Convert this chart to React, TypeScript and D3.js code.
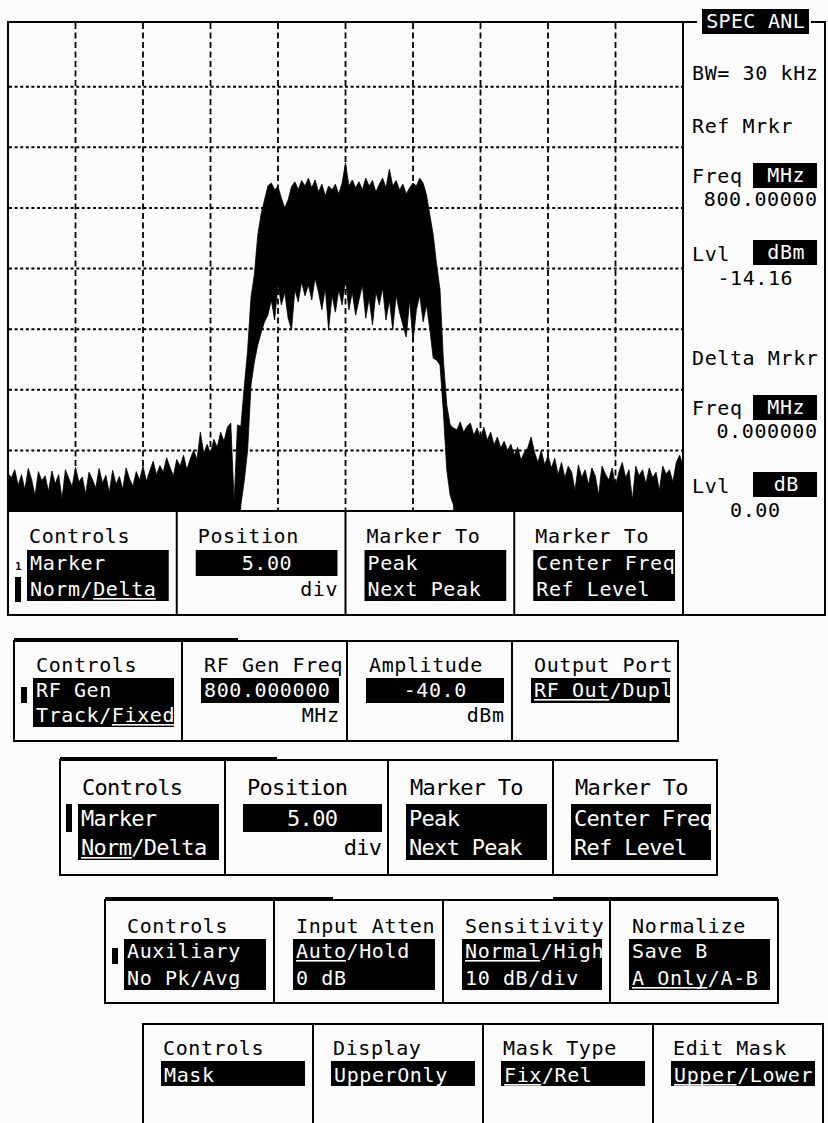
import React from "react";
import * as d3 from "d3";

// ---------- Spectrum trace data (dBm), sweep 797.5 .. 802.5 MHz, 0.025 MHz/point ----------
const START_MHZ = 797.5;
const STOP_MHZ = 802.5;
const STEP_MHZ = 0.025;
const REF_LEVEL = 10;
const DB_PER_DIV = 10;

// upper envelope (max hold peaks)
const traceMax = [
  // left noise floor
  -63.8, -64.5, -63.2, -65.8, -64, -66.5, -63, -64.8, -67.5, -63.5, -65, -64.2, -66.8, -63.4, -65.5, -64, -68, -63.2, -64.6, -66,
  -62.8, -65.2, -64.4, -67.2, -63.6, -64.8, -66.2, -63, -65.4, -64.1, -67, -63.3, -65.6, -64.3, -66.4, -62.9, -64.7, -65.9, -63.5, -64.9,
  -62.6, -65.1,
  // rising shoulder
  -63.4, -61.8, -64, -62.5, -63.6, -61.2, -62.8, -64.2, -61.5, -62.6, -60.8, -63.2, -61.4,
  -60, -61.5, -57, -60.5, -59, -60.5, -58.2, -59.5, -57, -58.5, -56.2, -55.5, -68.5, -55.8,
  // left skirt
  -56, -49.5, -43.5, -34.7, -31, -24.5, -21, -18.7, -16.4, -15.9,
  // plateau
  -17, -16.5, -18.4, -20, -18.7, -16.5, -15.7, -17, -15.5, -16.4, -15.1, -16.7, -15.4, -17.4, -16.1, -18, -16.4, -17, -16.1, -17.7,
  -15.9, -12.6, -16.4, -15.4, -16.7, -15.7, -17, -15.1, -16.4, -15.5, -17.4, -16.1, -15.1, -16.7, -13.6, -16.4, -15.5, -17, -16.1, -17.7,
  -16.7, -15.9, -16.4, -15.1, -15.9, -17.9,
  // right skirt
  -21.2, -24.5, -29.4, -33.5, -45.1, -52.5, -55.8, -56.3,
  // right shoulder and noise floor
  -56.6, -55.3, -57, -56, -55.5, -57.5, -56.3, -58, -56.2, -58.3, -57, -59.1, -57.8, -59.6, -58.5, -60, -59, -60.8, -59.5, -61.6,
  -60.3, -59.6, -57.8, -60.3, -62, -60, -62.4, -60.8, -62.9, -61.3, -64, -62, -64.5, -62.6, -63.6, -66.6, -62.4, -64.5, -63.2, -65.7,
  -62.9, -64.2, -67.4, -62.6, -63.9, -64.9, -62.9, -65.9, -63.6, -62, -64.5, -63.2, -68.2, -62.6, -64.2, -63.2, -65.5, -62.9, -64.5, -63.6,
  -66.6, -62.6, -63.9, -63.2, -65.2, -62, -60.8, -62.4,
];

// lower envelope (min); -80 = below screen bottom
const traceMin = [
  -80, -80, -80, -80, -80, -80, -80, -80, -80, -80, -80, -80, -80, -80, -80, -80, -80, -80, -80, -80,
  -80, -80, -80, -80, -80, -80, -80, -80, -80, -80, -80, -80, -80, -80, -80, -80, -80, -80, -80, -80,
  -80, -80, -80, -80, -80, -80, -80, -80, -80, -80, -80, -80, -80, -80, -80, -80, -80, -80, -80, -80,
  -80, -80, -80, -80, -80, -80, -80, -80, -80,
  -69, -65, -60, -49.2, -45.4, -42.6, -40.6, -38.8, -37.7, -35.2,
  -38.5, -32.7, -36, -33.9, -38.2, -40.1, -33.5, -35.5, -32.2, -34.5, -32.7, -35.2, -31.6, -33.9, -36.8, -33.2, -40.1, -34.4, -37.2, -33.5,
  -36, -31.9, -36.8, -33.9, -37.7, -35.2, -32.7, -38.2, -34.9, -39.3, -33.9, -36, -33.2, -38.5, -35.2, -40.1, -34.4, -37.2, -39.3, -41.3,
  -35.2, -42.1, -36.8, -34.4, -38.8, -36,
  -40.1, -44.8, -45.1, -45.9, -53.7, -63.2, -67.4, -69,
  -80, -80, -80, -80, -80, -80, -80, -80, -80, -80, -80, -80, -80, -80, -80, -80, -80, -80, -80, -80,
  -80, -80, -80, -80, -80, -80, -80, -80, -80, -80, -80, -80, -80, -80, -80, -80, -80, -80, -80, -80,
  -80, -80, -80, -80, -80, -80, -80, -80, -80, -80, -80, -80, -80, -80, -80, -80, -80, -80, -80, -80,
  -80, -80, -80, -80, -80, -80, -80, -80,
];

const gridFreqs = [798, 798.5, 799, 799.5, 800, 800.5, 801, 801.5, 802];
const gridLevels = [-60, -50, -40, -30, -20, -10, 0];

// ---------- Side panel texts ----------
const modeLabel = "SPEC ANL";
const bwLabel = "BW= 30 kHz";
const refMarker = { title: "Ref Mrkr", freqUnit: "MHz", freq: "800.00000", lvlUnit: "dBm", lvl: "-14.16" };
const deltaMarker = { title: "Delta Mrkr", freqUnit: "MHz", freq: "0.000000", lvlUnit: "dB", lvl: "0.00" };

// ---------- Softkey panels ----------
type Col = { title: string; lines: string[]; align?: "left" | "center"; unit?: string; u?: [number, number, number] };

const markerKeysDelta: Col[] = [
  { title: "Controls", lines: ["Marker", "Norm/Delta"], u: [1, 5, 5] },
  { title: "Position", lines: ["5.00"], align: "center", unit: "div" },
  { title: "Marker To", lines: ["Peak", "Next Peak"] },
  { title: "Marker To", lines: ["Center Freq", "Ref Level"] },
];
const rfGenKeys: Col[] = [
  { title: "Controls", lines: ["RF Gen", "Track/Fixed"], u: [1, 6, 5] },
  { title: "RF Gen Freq", lines: ["800.000000"], unit: "MHz" },
  { title: "Amplitude", lines: ["-40.0"], align: "center", unit: "dBm" },
  { title: "Output Port", lines: ["RF Out/Dupl"], u: [0, 0, 6] },
];
const markerKeysNorm: Col[] = [
  { title: "Controls", lines: ["Marker", "Norm/Delta"], u: [1, 0, 4] },
  { title: "Position", lines: ["5.00"], align: "center", unit: "div" },
  { title: "Marker To", lines: ["Peak", "Next Peak"] },
  { title: "Marker To", lines: ["Center Freq", "Ref Level"] },
];
const auxKeys: Col[] = [
  { title: "Controls", lines: ["Auxiliary", "No Pk/Avg"] },
  { title: "Input Atten", lines: ["Auto/Hold", "0 dB"], u: [0, 0, 4] },
  { title: "Sensitivity", lines: ["Normal/High", "10 dB/div"], u: [0, 0, 6] },
  { title: "Normalize", lines: ["Save B", "A Only/A-B"], u: [1, 0, 6] },
];
const maskKeys: Col[] = [
  { title: "Controls", lines: ["Mask"] },
  { title: "Display", lines: ["UpperOnly"] },
  { title: "Mask Type", lines: ["Fix/Rel"], u: [0, 0, 3] },
  { title: "Edit Mask", lines: ["Upper/Lower"], u: [0, 0, 5] },
];

const FONT = "'DejaVu Sans Mono', 'Liberation Mono', monospace";
const BG = "#fcfcfc";
const LS = 0.6;

function Txt({ x, y, s, fs = 20, ls = LS, fill = "#000", anchor = "start", u }: any) {
  const adv = fs * 0.602 + ls;
  const w = s.length * adv - ls;
  let sx = x;
  if (anchor === "middle") sx = x - w / 2;
  else if (anchor === "end") sx = x - w;
  return (
    <g>
      <text x={sx} y={y} fontFamily={FONT} fontSize={fs} letterSpacing={ls} fill={fill} style={{ whiteSpace: "pre" }}>
        {s}
      </text>
      {u && <rect x={sx + u[0] * adv} y={y + 2} width={u[1] * adv - ls} height={1.6} fill={fill} />}
    </g>
  );
}

type Geo = {
  cols: number[]; top: number; bottom?: number; titleY: number; boxTop: number; box1B: number; box2B: number;
  rows: number[]; titleIn: number; boxIn: number; boxRight: number; fs: number; ls: number;
  thick?: number[][]; indicator?: number[]; noFrame?: boolean;
};

function Panel({ g, cols }: { g: Geo; cols: Col[] }) {
  const l = g.cols[0];
  const r = g.cols[4];
  const bottom = g.bottom ?? 1135;
  return (
    <g>
      {!g.noFrame && (
        <>
          <rect x={l} y={g.top} width={r - l} height={bottom - g.top} fill={BG} stroke="#000" strokeWidth={2} />
          {(g.thick || []).map(([a, b], i) => (
            <rect key={i} x={a} y={g.top - 3} width={b - a} height={4} fill="#000" />
          ))}
        </>
      )}
      {g.cols.slice(1, 4).map((cx, i) => (
        <line key={i} x1={cx} x2={cx} y1={g.top} y2={bottom} stroke="#000" strokeWidth={2} />
      ))}
      {g.indicator && (
        <rect x={g.indicator[0]} y={g.indicator[1]} width={6} height={g.indicator[2] - g.indicator[1]} fill="#000" />
      )}
      {cols.map((c, i) => {
        const cl = g.cols[i];
        const cr = g.cols[i + 1];
        const bx = cl + g.boxIn;
        const bw = cr - g.boxRight - bx;
        const two = c.lines.length > 1;
        const bb = two ? g.box2B : g.box1B;
        return (
          <g key={i}>
            <Txt x={cl + g.titleIn} y={g.titleY} s={c.title} fs={g.fs} ls={g.ls} />
            <rect x={bx} y={g.boxTop} width={bw} height={bb - g.boxTop} fill="#000" />
            {c.lines.map((ln, k) => (
              <Txt
                key={k}
                x={c.align === "center" ? bx + bw / 2 : bx + 3}
                anchor={c.align === "center" ? "middle" : "start"}
                y={g.rows[k]}
                s={ln}
                fs={g.fs}
                ls={g.ls}
                fill="#fff"
                u={c.u && c.u[0] === k ? [c.u[1], c.u[2]] : undefined}
              />
            ))}
            {c.unit && <Txt x={bx + bw} anchor="end" y={g.rows[1]} s={c.unit} fs={g.fs} ls={g.ls} />}
          </g>
        );
      })}
    </g>
  );
}

const P1: Geo = { cols: [8, 176.75, 345.5, 514.25, 683], top: 511, bottom: 615, titleY: 543, boxTop: 550, box1B: 576, box2B: 601, rows: [570, 596], titleIn: 21, boxIn: 19, boxRight: 8, fs: 20, ls: LS, indicator: [15, 577, 602], noFrame: true };
const P2: Geo = { cols: [14, 182, 347, 512, 678], top: 641, bottom: 741, titleY: 672, boxTop: 678, box1B: 703, box2B: 727, rows: [697, 722], titleIn: 22, boxIn: 19, boxRight: 8, fs: 20, ls: LS, thick: [[14, 238]], indicator: [21, 687, 703] };
const P3: Geo = { cols: [60, 225, 388, 553, 717], top: 760, bottom: 875, titleY: 795, boxTop: 804, box1B: 832, box2B: 860, rows: [826, 855], titleIn: 22, boxIn: 18, boxRight: 6, fs: 22, ls: -0.7, thick: [[60, 277]], indicator: [66, 804, 832] };
const P4: Geo = { cols: [105, 274, 443, 610, 778], top: 900, bottom: 1003, titleY: 933, boxTop: 939, box1B: 964, box2B: 990, rows: [958, 985], titleIn: 22, boxIn: 19, boxRight: 8, fs: 20, ls: LS, thick: [[105, 333], [553, 778]], indicator: [112, 948, 964] };
const P5: Geo = { cols: [143, 313, 483, 653, 823], top: 1024, titleY: 1055, boxTop: 1061, box1B: 1086, box2B: 1110, rows: [1082, 1107], titleIn: 20, boxIn: 18, boxRight: 8, fs: 20, ls: LS };

function MarkerBlock({ y0, m }: { y0: number; m: any }) {
  // y0 = baseline of title
  return (
    <g>
      <Txt x={692} y={y0} s={m.title} />
      <Txt x={692} y={y0 + 50} s="Freq" />
      <rect x={753} y={y0 + 30} width={64} height={25} fill="#000" />
      <Txt x={786} anchor="middle" y={y0 + 49} s={m.freqUnit} fill="#fff" />
      <Txt x={817} anchor="end" y={y0 + 73} s={m.freq} />
      <Txt x={692} y={y0 + 128} s="Lvl" />
      <rect x={753} y={y0 + 107} width={64} height={25} fill="#000" />
      <Txt x={786} anchor="middle" y={y0 + 126} s={m.lvlUnit} fill="#fff" />
      <Txt x={755} anchor="middle" y={y0 + 152} s={m.lvl} />
    </g>
  );
}

export default function App() {
  const n = Math.min(traceMax.length, traceMin.length);
  const freqs = d3.range(n).map((i) => START_MHZ + i * STEP_MHZ);
  const x = d3.scaleLinear().domain([START_MHZ, STOP_MHZ]).range([8, 683]);
  const y = d3.scaleLinear().domain([REF_LEVEL - 8 * DB_PER_DIV, REF_LEVEL]).range([511, 26]);
  const area = d3
    .area<number>()
    .x((_, i) => x(freqs[i]))
    .y0((_, i) => y(traceMin[i]))
    .y1((d) => y(d))
    .curve(d3.curveLinear);
  const pathD = area(traceMax.slice(0, n)) || "";

  return (
    <svg width={828} height={1123} style={{ position: "absolute", left: 0, top: 0, display: "block", background: BG }}>
      <defs>
        <clipPath id="plotClip">
          <rect x={8} y={22} width={675} height={489} />
        </clipPath>
      </defs>
      <rect x={0} y={0} width={828} height={1123} fill={BG} />

      {/* grid */}
      {gridLevels.map((v) => (
        <line key={"h" + v} x1={9} x2={682} y1={y(v)} y2={y(v)} stroke="#000" strokeWidth={2} strokeDasharray="3 2.6" />
      ))}
      {gridFreqs.map((f) => (
        <line key={"v" + f} x1={x(f)} x2={x(f)} y1={23} y2={510} stroke="#000" strokeWidth={1.8} strokeDasharray="6 3.5" />
      ))}

      {/* trace */}
      <path d={pathD} fill="#000" stroke="#000" strokeWidth={0.8} clipPath="url(#plotClip)" />

      {/* main frame */}
      <line x1={8} x2={697} y1={22} y2={22} stroke="#000" strokeWidth={2} />
      <line x1={811} x2={826} y1={22} y2={22} stroke="#000" strokeWidth={2} />
      <line x1={8} x2={8} y1={21} y2={616} stroke="#000" strokeWidth={2} />
      <line x1={825} x2={825} y1={21} y2={616} stroke="#000" strokeWidth={2} />
      <line x1={7} x2={826} y1={615} y2={615} stroke="#000" strokeWidth={2} />
      <line x1={8} x2={683} y1={511} y2={511} stroke="#000" strokeWidth={2} />
      <line x1={683} x2={683} y1={22} y2={615} stroke="#000" strokeWidth={2} />

      {/* mode label */}
      <rect x={702} y={9} width={107} height={25} fill="#000" />
      <Txt x={755.5} anchor="middle" y={28} s={modeLabel} fill="#fff" ls={0.3} />

      {/* side panel */}
      <Txt x={692} y={80} s={bwLabel} />
      <MarkerBlock y0={133} m={refMarker} />
      <MarkerBlock y0={365} m={deltaMarker} />

      {/* softkeys under the display */}
      <Panel g={P1} cols={markerKeysDelta} />
      <text x={15} y={570} fontFamily={FONT} fontSize={11} fontWeight="bold" fill="#000">1</text>

      {/* additional softkey panels */}
      <Panel g={P2} cols={rfGenKeys} />
      <Panel g={P3} cols={markerKeysNorm} />
      <Panel g={P4} cols={auxKeys} />
      <Panel g={P5} cols={maskKeys} />
    </svg>
  );
}
